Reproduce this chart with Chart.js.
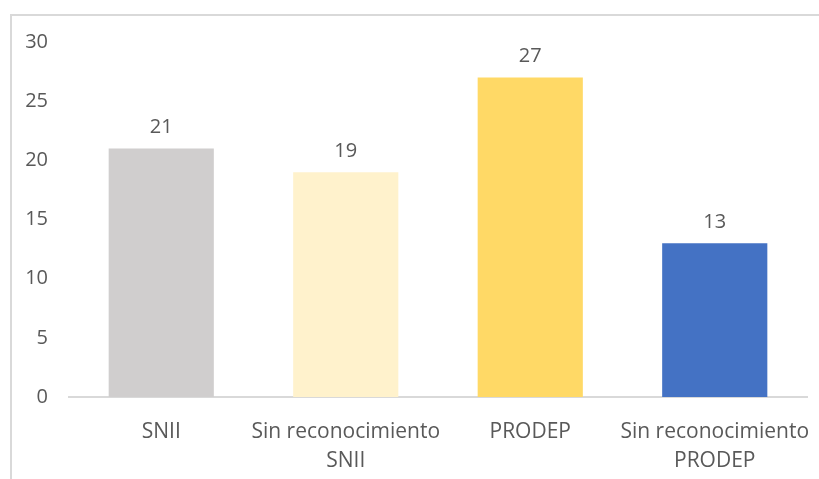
<!DOCTYPE html>
<html>
<head>
<meta charset="utf-8">
<script src="https://cdn.jsdelivr.net/npm/chart.js@4"></script>
<style>
  html, body { margin: 0; padding: 0; background: #fff; overflow: hidden; }
  #frame {
    position: absolute; left: 10px; top: 14px;
    width: 830px; height: 480px;
    border-left: 2px solid #d9d9d9; border-top: 2px solid #d9d9d9;
  }
  #box { position: absolute; left: 0; top: 0; width: 807px; height: 463px; }
</style>
</head>
<body>
<div id="frame"><div id="box"><canvas id="chart"></canvas></div></div>
<script>
const categories = [['SNII'], ['Sin reconocimiento', 'SNII'], ['PRODEP'], ['Sin reconocimiento', 'PRODEP']];
const values = [21, 19, 27, 13];
const barColors = ['#D0CECE', '#FFF2CC', '#FFD966', '#4472C4'];
const yTicks = [0, 5, 10, 15, 20, 25, 30];

const fontFamily = "'Open Sans', sans-serif";
const textColor = '#595959';

// value labels above bars
const valueLabels = {
  id: 'valueLabels',
  afterDatasetsDraw(chart) {
    const ctx = chart.ctx;
    const meta = chart.getDatasetMeta(0);
    ctx.save();
    ctx.font = '20px ' + fontFamily;
    ctx.fillStyle = textColor;
    ctx.textAlign = 'center';
    ctx.textBaseline = 'bottom';
    meta.data.forEach((bar, i) => {
      ctx.fillText(String(values[i]), bar.x, bar.y - 11);
    });
    ctx.restore();
  }
};

let chart = null;

function initChart(){
  const ctx = document.getElementById('chart').getContext('2d');
  chart = new Chart(ctx, {
    type: 'bar',
    data: {
      labels: categories,
      datasets: [{
        data: values,
        backgroundColor: barColors,
        borderWidth: 0,
        barPercentage: 0.57,
        categoryPercentage: 1
      }]
    },
    options: {
      responsive: true,
      maintainAspectRatio: false,
      animation: false,
      layout: { padding: { top: 26, right: 12, left: 0, bottom: 0 } },
      plugins: {
        legend: { display: false },
        tooltip: { enabled: false }
      },
      scales: {
        x: {
          grid: { display: false, drawTicks: false },
          border: { display: true, color: '#d9d9d9', width: 2 },
          ticks: {
            color: textColor,
            font: { family: fontFamily, size: 21, lineHeight: 1.35 },
            padding: 21,
            maxRotation: 0,
            autoSkip: false
          },
          afterFit(scale) {
            scale.height = 82;
            scale.paddingLeft = 0;
            scale.paddingRight = 0;
          }
        },
        y: {
          min: 0,
          max: 30,
          grid: { display: false, drawTicks: false },
          border: { display: false },
          afterBuildTicks(scale) { scale.ticks = yTicks.map(v => ({ value: v })); },
          ticks: {
            color: textColor,
            font: { family: fontFamily, size: 20 },
            padding: 21
          },
          afterFit(scale) {
            scale.width = 57;
            scale.paddingTop = 0;
            scale.paddingBottom = 0;
          }
        }
      }
    },
    plugins: [valueLabels]
  });
}

initChart();
</script>
</body>
</html>
